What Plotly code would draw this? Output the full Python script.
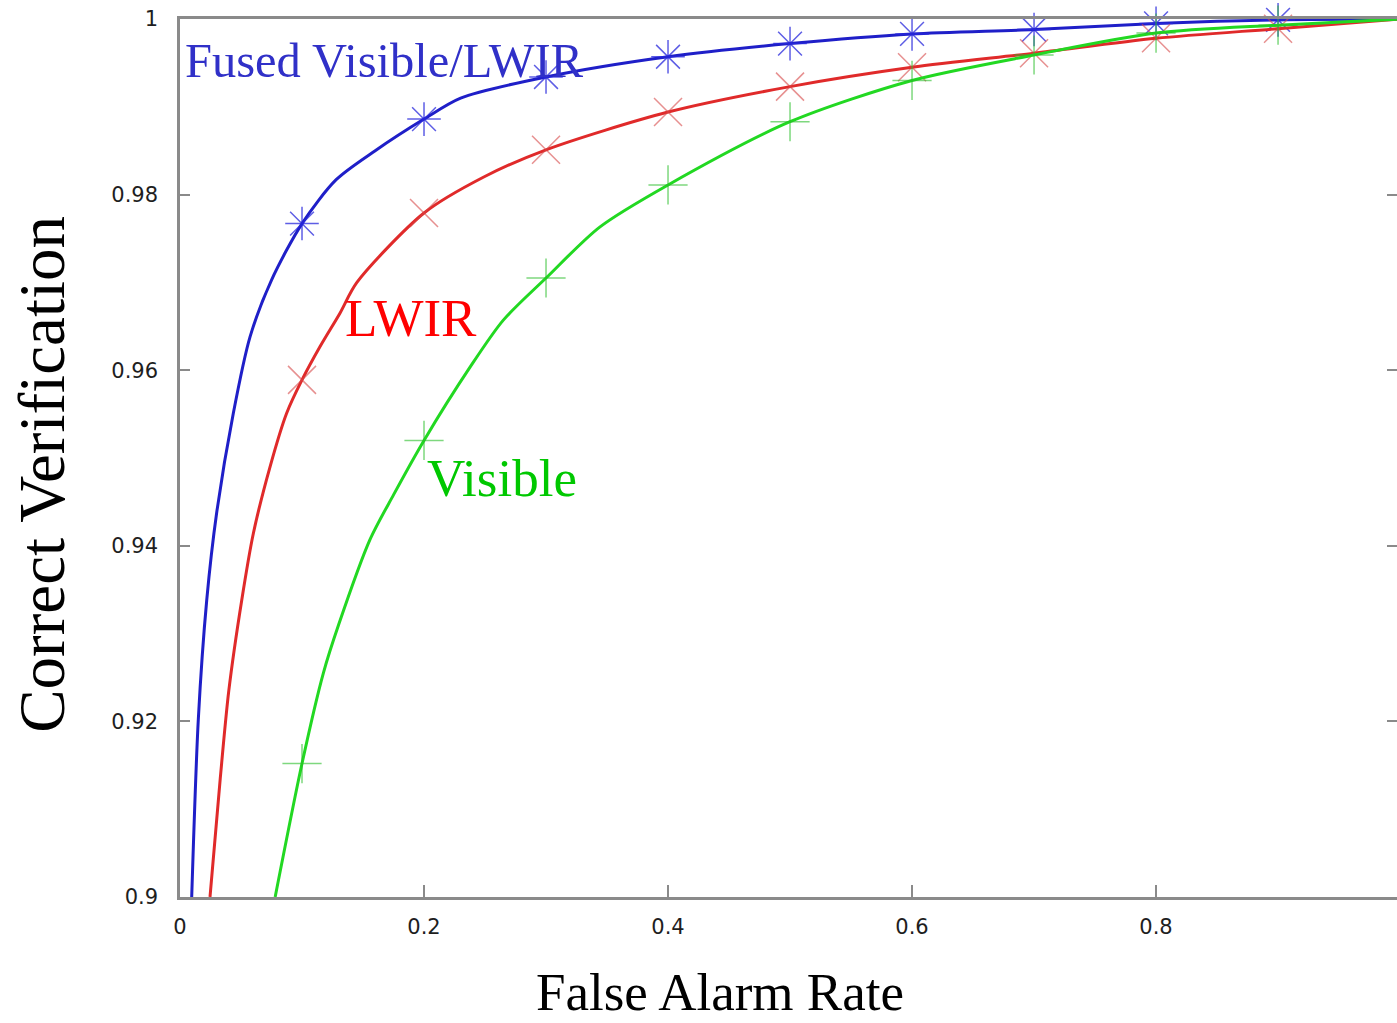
import plotly.graph_objects as go

# ---- data ----
fused_x = [0.0096, 0.015, 0.0219, 0.030, 0.0437, 0.0574, 0.0751, 0.1,
           0.128, 0.16, 0.2, 0.23, 0.3, 0.4, 0.5, 0.6, 0.7, 0.8, 0.9, 1.0]
fused_y = [0.9, 0.9202, 0.9338, 0.9437, 0.9551, 0.9638, 0.9703, 0.9767,
           0.9817, 0.9850, 0.9886, 0.9910, 0.9934, 0.9957, 0.9972, 0.9983, 0.9988, 0.9995, 0.9999, 1.0]

lwir_x = [0.0246, 0.033, 0.040, 0.0506, 0.0601, 0.0738, 0.0874, 0.1, 0.1148, 0.1311, 0.145,
          0.2, 0.249, 0.3, 0.4, 0.5, 0.6, 0.7, 0.8, 0.9, 1.0]
lwir_y = [0.9, 0.9135, 0.9235, 0.9338, 0.9414, 0.9490, 0.9551, 0.9589, 0.9627, 0.9665, 0.9700,
          0.9779, 0.9820, 0.9851, 0.9894, 0.9923, 0.9945, 0.9961, 0.9978, 0.9989, 1.0]

visible_x = [0.078, 0.1, 0.1175, 0.13, 0.1557, 0.175, 0.2, 0.238, 0.265, 0.3, 0.344,
             0.4, 0.5, 0.6, 0.7, 0.8, 0.9, 1.0]
visible_y = [0.9, 0.9152, 0.9255, 0.9310, 0.9407, 0.9458, 0.952, 0.9604, 0.9657, 0.9705, 0.9763,
             0.9811, 0.9883, 0.9930, 0.9959, 0.9984, 0.9993, 1.0]

marker_x = [0.1, 0.2, 0.3, 0.4, 0.5, 0.6, 0.7, 0.8, 0.9]

x_tickvals = [0, 0.2, 0.4, 0.6, 0.8, 1.0]
x_ticktext = ["0", "0.2", "0.4", "0.6", "0.8", "1"]
y_tickvals = [0.9, 0.92, 0.94, 0.96, 0.98, 1.0]
y_ticktext = ["0.9", "0.92", "0.94", "0.96", "0.98", "1"]

series = [
    ("Fused Visible/LWIR", fused_x, fused_y, "#1f1fc8", "rgba(40,40,220,0.75)", "asterisk-open"),
    ("LWIR", lwir_x, lwir_y, "#e02a2a", "rgba(215,70,70,0.6)", "x-thin-open"),
    ("Visible", visible_x, visible_y, "#22d822", "rgba(40,190,40,0.6)", "cross-thin-open"),
]

fig = go.Figure()
for name, xs, ys, lc, mc, sym in series:
    fig.add_trace(go.Scatter(x=xs, y=ys, mode="lines", name=name,
                             line=dict(color=lc, width=3, shape="spline", smoothing=0.8),
                             showlegend=False))
    lookup = dict(zip(xs, ys))
    fig.add_trace(go.Scatter(x=marker_x, y=[lookup[v] for v in marker_x], mode="markers",
                             marker=dict(symbol=sym, size=28, color=mc, line=dict(color=mc, width=1.5)),
                             cliponaxis=False, showlegend=False))

serif = "Liberation Serif, Times New Roman, serif"
fig.add_annotation(x=0.0025, y=0.9953, xref="x", yref="y", text="Fused Visible/LWIR",
                   showarrow=False, xanchor="left", yanchor="middle",
                   font=dict(family=serif, size=48.5, color="#3030c8"))
fig.add_annotation(x=0.1336, y=0.9659, xref="x", yref="y", text="LWIR",
                   showarrow=False, xanchor="left", yanchor="middle",
                   font=dict(family=serif, size=53, color="#ff0000"))
fig.add_annotation(x=0.2008, y=0.9477, xref="x", yref="y", text="Visible",
                   showarrow=False, xanchor="left", yanchor="middle",
                   font=dict(family=serif, size=53, color="#00c800"))

fig.add_annotation(x=-0.1134, y=0.482, xref="paper", yref="paper", text="Correct Verification",
                   showarrow=False, textangle=-90, xanchor="center", yanchor="middle",
                   font=dict(family=serif, size=65, color="#000000"))
fig.add_annotation(x=0.444, y=-0.1435, xref="paper", yref="paper", text="False Alarm Rate",
                   showarrow=False, xanchor="center", yanchor="bottom",
                   font=dict(family=serif, size=53, color="#000000"))

tickfont = dict(family="DejaVu Sans, sans-serif", size=21, color="#1e1e1e")
fig.update_xaxes(range=[0, 0.9975], tickvals=x_tickvals, ticktext=x_ticktext,
                 showline=True, linecolor="#8a8a8a", linewidth=2.5, mirror=True,
                 ticks="inside", ticklen=12, tickwidth=2, tickcolor="#8a8a8a",
                 showgrid=False, zeroline=False, tickfont=tickfont, ticklabelstandoff=9)
fig.update_yaxes(range=[0.9, 1.0], tickvals=y_tickvals, ticktext=y_ticktext,
                 showline=True, linecolor="#8a8a8a", linewidth=2.5, mirror=False,
                 ticks="inside", ticklen=10, tickwidth=2, tickcolor="#8a8a8a",
                 showgrid=False, zeroline=False, tickfont=tickfont, ticklabelstandoff=15)

# right-hand ticks only (the right border itself falls just outside the picture)
fig.update_layout(yaxis2=dict(overlaying="y", side="right", range=[0.9, 1.0], tickvals=y_tickvals,
                              showticklabels=False, showline=False, showgrid=False, zeroline=False,
                              ticks="inside", ticklen=10, tickwidth=2, tickcolor="#8a8a8a"))
fig.add_trace(go.Scatter(x=[None], y=[None], yaxis="y2", showlegend=False, hoverinfo="skip"))

fig.update_layout(width=1397, height=1023, margin=dict(l=180, r=0, t=19, b=126),
                  plot_bgcolor="white", paper_bgcolor="white", showlegend=False)

# drop the default 8px page margin so the figure fills the window exactly
fig.write_html("out.html", config={"displayModeBar": False},
               post_script="document.body.style.margin='0';"
                           "document.documentElement.style.overflow='hidden';")
